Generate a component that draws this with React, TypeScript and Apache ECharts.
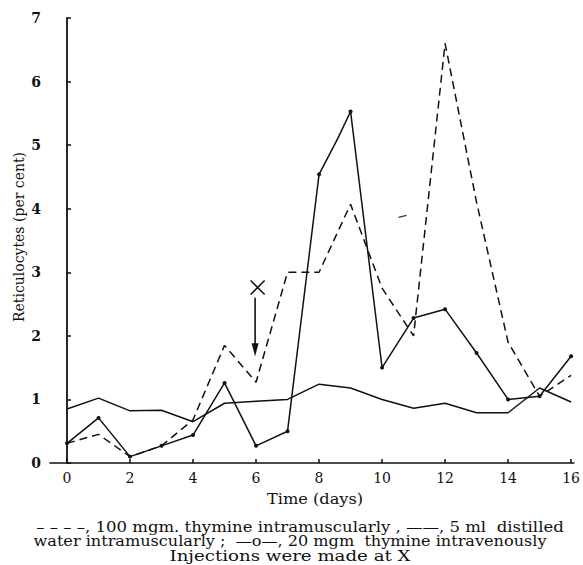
import React, { useEffect, useRef } from "react";
import * as echarts from "echarts";

const days = [0, 1, 2, 3, 4, 5, 6, 7, 8, 9, 10, 11, 12, 13, 14, 15, 16];
// 100 mgm thymine intramuscularly (dashed)
const thymineIM = [0.31, 0.45, 0.1, 0.27, 0.68, 1.85, 1.27, 3.0, 3.0, 4.07, 2.75, 2.0, 6.6, 4.1, 1.9, 1.05, 1.38];
// 5 ml distilled water intramuscularly (solid)
const waterIM = [0.85, 1.02, 0.82, 0.83, 0.65, 0.94, 0.97, 1.0, 1.24, 1.18, 1.0, 0.86, 0.94, 0.79, 0.79, 1.18, 0.96];
// 20 mgm thymine intravenously (solid with dots)
const thymineIV = [0.31, 0.71, 0.1, 0.27, 0.44, 1.26, 0.27, 0.5, 4.54, 5.53, 1.5, 2.28, 2.42, 1.73, 1.0, 1.05, 1.68];
const ivKink: [number, number] = [8.6, 5.11];
const xTicks = [0, 2, 4, 6, 8, 10, 12, 14, 16];
const injectionDay = 6;

const FONT = "'DejaVu Serif', 'Liberation Serif', serif";

export default function App() {
  const ref = useRef<HTMLDivElement>(null);
  useEffect(() => {
    if (!ref.current) return;
    const chart = echarts.init(ref.current, null, { renderer: "svg" });
    const ivData: any[] = [];
    days.forEach((d, i) => {
      ivData.push([d, thymineIV[i]]);
      if (d === 8) ivData.push({ value: ivKink, symbol: "none" });
    });
    chart.setOption({
      animation: false,
      backgroundColor: "#fff",
      grid: { left: 50, right: 5, top: 18, bottom: 102 },
      xAxis: {
        type: "value",
        min: -0.54,
        max: 16.09,
        splitLine: { show: false },
        axisLine: { lineStyle: { color: "#111", width: 1.5 } },
        axisTick: { inside: true, length: 4, customValues: xTicks, lineStyle: { color: "#111", width: 1.5 } },
        axisLabel: { customValues: xTicks, color: "#111", fontFamily: FONT, fontSize: 14, margin: 8 },
      },
      yAxis: {
        type: "value",
        min: 0,
        max: 7,
        interval: 1,
        splitLine: { show: false },
        axisLine: { show: true, lineStyle: { color: "#111", width: 1.8 } },
        axisTick: { show: true, inside: true, length: 4, lineStyle: { color: "#111", width: 1.5 } },
        axisLabel: { color: "#111", fontFamily: FONT, fontSize: 14, fontWeight: "bold", margin: 9 },
      },
      series: [
        {
          name: "100 mgm thymine intramuscularly",
          type: "line",
          data: days.map((d, i) => [d, thymineIM[i]]),
          symbol: "none",
          lineStyle: { color: "#111", width: 1.5, type: [8, 5] },
        },
        {
          name: "5 ml distilled water intramuscularly",
          type: "line",
          data: days.map((d, i) => [d, waterIM[i]]),
          symbol: "none",
          lineStyle: { color: "#111", width: 1.5 },
        },
        {
          name: "20 mgm thymine intravenously",
          type: "line",
          data: ivData,
          symbol: "circle",
          symbolSize: 4,
          itemStyle: { color: "#111" },
          lineStyle: { color: "#111", width: 1.5 },
        },
      ],
    });

    const p = (x: number, y: number) => chart.convertToPixel({ gridIndex: 0 }, [x, y]) as number[];
    const xm = p(injectionDay + 0.05, 2.76);
    const a0 = p(injectionDay - 0.03, 2.6);
    const a1 = p(injectionDay - 0.03, 1.68);
    const stray = p(10.65, 3.88);
    const black = { stroke: "#111", lineWidth: 1.6 };
    const cap = (text: string, x: number, y: number, sx: number) => ({
      type: "text",
      x,
      y,
      scaleX: sx,
      style: { text, font: `14px ${FONT}`, fill: "#111", align: "center", verticalAlign: "middle" },
    });
    chart.setOption({
      graphic: [
        { type: "line", shape: { x1: xm[0] - 7, y1: xm[1] - 7, x2: xm[0] + 7, y2: xm[1] + 7 }, style: black },
        { type: "line", shape: { x1: xm[0] + 7, y1: xm[1] - 7, x2: xm[0] - 7, y2: xm[1] + 7 }, style: black },
        { type: "line", shape: { x1: a0[0], y1: a0[1], x2: a1[0], y2: a1[1] - 10 }, style: black },
        {
          type: "polygon",
          shape: { points: [[a1[0] - 3.5, a1[1] - 13], [a1[0] + 3.5, a1[1] - 13], [a1[0], a1[1]]] },
          style: { fill: "#111" },
        },
        { type: "line", shape: { x1: stray[0] - 4, y1: stray[1] + 1, x2: stray[0] + 4, y2: stray[1] - 1 }, style: { stroke: "#333", lineWidth: 1.2 } },
        {
          type: "text",
          x: 19,
          y: 237,
          rotation: Math.PI / 2,
          style: { text: "Reticulocytes (per cent)", font: `14px ${FONT}`, fill: "#111", align: "center", verticalAlign: "middle" },
        },
        {
          type: "text",
          x: 315,
          y: 499,
          scaleX: 1.08,
          style: { text: "Time (days)", font: `15px ${FONT}`, fill: "#111", align: "center", verticalAlign: "middle" },
        },
        cap("– – – –, 100 mgm. thymine intramuscularly , ——, 5 ml  distilled", 300, 527, 1.18),
        cap("water intramuscularly ;  —o—, 20 mgm  thymine intravenously", 290, 541, 1.15),
        cap("Injections were made at X", 290, 556, 1.3),
      ],
    });
    return () => chart.dispose();
  }, []);
  return <div ref={ref} style={{ position: "fixed", left: 0, top: 0, width: 583, height: 565, background: "#fff" }} />;
}
